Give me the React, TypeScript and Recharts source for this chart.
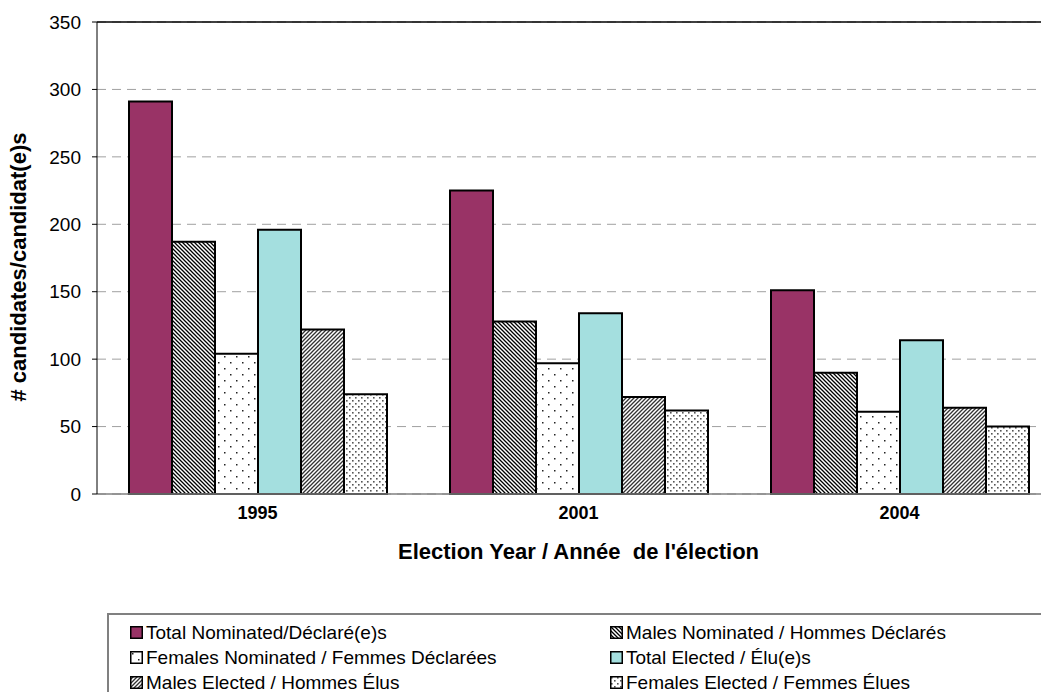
import { BarChart, Bar, XAxis, YAxis, CartesianGrid, ReferenceLine } from 'recharts';

const years = ['1995', '2001', '2004'];
const totalNominated = [291, 225, 151];
const malesNominated = [187, 128, 90];
const femalesNominated = [104, 97, 61];
const totalElected = [196, 134, 114];
const malesElected = [122, 72, 64];
const femalesElected = [74, 62, 50];
const yTicks = [0, 50, 100, 150, 200, 250, 300, 350];

const series = [
  { key: 'totalNominated', name: 'Total Nominated/Déclaré(e)s', fill: '#993366' },
  { key: 'malesNominated', name: 'Males Nominated / Hommes Déclarés', fill: 'url(#malesNom)' },
  { key: 'femalesNominated', name: 'Females Nominated / Femmes Déclarées', fill: 'url(#femalesNom)' },
  { key: 'totalElected', name: 'Total Elected / Élu(e)s', fill: '#a4dfdf' },
  { key: 'malesElected', name: 'Males Elected / Hommes Élus', fill: 'url(#malesEl)' },
  { key: 'femalesElected', name: 'Females Elected / Femmes Élues', fill: 'url(#femalesEl)' },
];

const data = years.map((year, i) => ({
  year,
  totalNominated: totalNominated[i],
  malesNominated: malesNominated[i],
  femalesNominated: femalesNominated[i],
  totalElected: totalElected[i],
  malesElected: malesElected[i],
  femalesElected: femalesElected[i],
}));

const font = '"Liberation Sans", Arial, sans-serif';

function Patterns() {
  return (
    <svg width={0} height={0} style={{ position: 'absolute' }}>
      <defs>
        <pattern id="malesNom" patternUnits="userSpaceOnUse" width={4} height={4}>
          <rect width={4} height={4} fill="#fff" />
          <path d="M-1,-1 L5,5 M-1,3 L1,5 M3,-1 L5,1" stroke="#000" strokeWidth={1.3} />
        </pattern>
        <pattern id="malesEl" patternUnits="userSpaceOnUse" width={4} height={4}>
          <rect width={4} height={4} fill="#fff" />
          <path d="M-1,5 L5,-1 M-1,1 L1,-1 M3,5 L5,3" stroke="#333" strokeWidth={1.3} />
        </pattern>
        <pattern id="femalesNom" patternUnits="userSpaceOnUse" width={12} height={12}>
          <rect width={12} height={12} fill="#fff" />
          <rect x={2} y={2} width={1.5} height={1.5} fill="#222" />
          <rect x={8} y={8} width={1.5} height={1.5} fill="#222" />
        </pattern>
        <pattern id="femalesEl" patternUnits="userSpaceOnUse" width={6} height={6}>
          <rect width={6} height={6} fill="#fff" />
          <rect x={1} y={1} width={1.6} height={1.6} fill="#555" />
          <rect x={4} y={4} width={1.6} height={1.6} fill="#555" />
        </pattern>
      </defs>
    </svg>
  );
}

function YTitle({ viewBox }: any) {
  const cx = viewBox.x - 19;
  const cy = viewBox.y + viewBox.height / 2 + 9;
  return (
    <text
      x={cx}
      y={cy}
      transform={`rotate(-90, ${cx}, ${cy})`}
      textAnchor="middle"
      dominantBaseline="central"
      fontFamily={font}
      fontWeight="bold"
      fontSize={22}
      fill="#000"
    >
      # candidates/candidat(e)s
    </text>
  );
}

export default function App() {
  return (
    <div style={{ position: 'relative', width: 1049, height: 700, margin: -8, overflow: 'hidden', background: '#fff', fontFamily: font }}>
      <Patterns />
      <BarChart
        width={1100}
        height={760}
        data={data}
        margin={{ top: 22, right: 40, left: 37, bottom: 196 }}
        barGap={0}
        barSize={43}
      >
        <CartesianGrid vertical={false} stroke="#a0a0a0" strokeDasharray="9 6" />
        <XAxis
          dataKey="year"
          height={70}
          tickLine={false}
          tickSize={0}
          tickMargin={12}
          axisLine={{ stroke: '#808080', strokeWidth: 1.5 }}
          tick={{ fill: '#000', fontSize: 18, fontWeight: 'bold', fontFamily: font }}
          label={{
            value: "Election Year / Année\u00a0 de l'élection",
            position: 'insideBottom',
            offset: 5,
            fill: '#000',
            fontSize: 22,
            fontWeight: 'bold',
            fontFamily: font,
          }}
        />
        <YAxis
          width={60}
          domain={[0, 350]}
          ticks={yTicks}
          interval={0}
          tickSize={5}
          tickMargin={11}
          axisLine={{ stroke: '#000' }}
          tickLine={{ stroke: '#000' }}
          tick={{ fill: '#000', fontSize: 19, fontFamily: font }}
          label={<YTitle />}
        />
        <ReferenceLine y={350} stroke="#000" strokeWidth={1.5} />
        {series.map((s) => (
          <Bar
            key={s.key}
            dataKey={s.key}
            name={s.name}
            fill={s.fill}
            stroke="#000"
            strokeWidth={2}
            isAnimationActive={false}
          />
        ))}
      </BarChart>
      <div
        style={{
          position: 'absolute',
          left: 107,
          top: 613,
          width: 1000,
          height: 120,
          border: '2px solid #808080',
          boxSizing: 'border-box',
          padding: '5px 0 0 21px',
          display: 'grid',
          gridTemplateColumns: '480px 480px',
          gridAutoRows: '25px',
          fontSize: 19,
          color: '#000',
        }}
      >
        {series.map((s) => (
          <div key={s.key} style={{ display: 'flex', alignItems: 'center', whiteSpace: 'nowrap' }}>
            <svg width={13} height={13} style={{ marginRight: 3 }}>
              <rect x={0.75} y={0.75} width={11.5} height={11.5} fill={s.fill} stroke="#000" strokeWidth={1.5} />
            </svg>
            <span>{s.name}</span>
          </div>
        ))}
      </div>
    </div>
  );
}
